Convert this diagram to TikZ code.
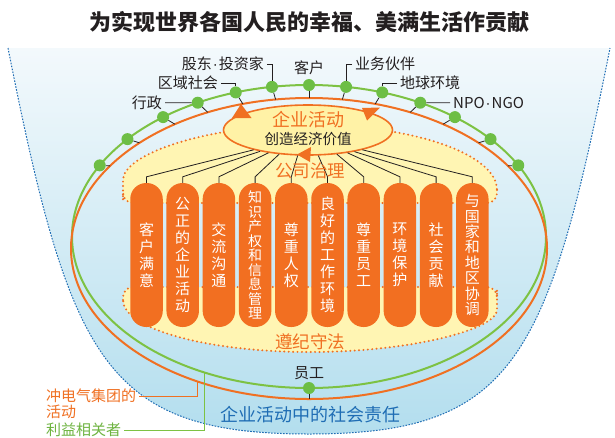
\documentclass[tikz,border=0pt]{standalone}
\usepackage{fontspec}
\setmainfont{Noto Sans CJK SC}
\newfontfamily\dotfont{Liberation Sans}
\newcommand{\mdot}{{\dotfont\kern1pt·\kern1pt}}
\usetikzlibrary{arrows.meta,shapes.geometric}
\definecolor{org}{HTML}{F07022}
\definecolor{pil}{HTML}{F26F21}
\definecolor{yel}{HTML}{FFF5B3}
\definecolor{yel2}{HTML}{FFF2A6}
\definecolor{grn}{HTML}{7DC243}
\definecolor{dotg}{HTML}{6DBE45}
\definecolor{grn2}{HTML}{6DB33F}
\definecolor{blu}{HTML}{1F6DB4}
\definecolor{bowlT}{HTML}{F3F9FC}
\definecolor{bowlB}{HTML}{B3DEEE}
\definecolor{txt}{HTML}{231F20}
\begin{document}
\begin{tikzpicture}[x=1pt,y=-1pt,
  lab/.style={font=\fontsize{15}{15}\selectfont, text=txt, inner sep=3pt},
  tickline/.style={draw=txt, line width=0.8pt},
  sdot/.style={circle, fill=dotg, minimum size=12pt, inner sep=0pt},
  pillar/.style={fill=pil, rounded corners=16pt, minimum width=32.5pt, minimum height=144pt, inner sep=0pt, text=white, align=center, font=\fontsize{15}{17}\selectfont},
  dottedborder/.style={draw=org, line width=2.2pt, dash pattern=on 0pt off 4.4pt, line cap=round},
  bowlline/.style={draw=blu, line width=1pt, dash pattern=on 1.6pt off 1.4pt},
  orgline/.style={draw=org, line width=2pt},
  grnline/.style={draw=grn, line width=2pt},
]
\useasboundingbox (0,0) rectangle (615,437);
\fill[white] (0,0) rectangle (615,437);
% bowl
\shade[top color=bowlT, bottom color=bowlB] (8,48) .. controls (70,360) and (105,434) .. (309,434) .. controls (513,434) and (548,360) .. (610,48) -- cycle;
\draw[bowlline] (8,48) .. controls (70,360) and (105,434) .. (309,434) .. controls (513,434) and (548,360) .. (610,48);
% stakeholder ellipses
\draw[grnline] (309,236.5) ellipse[x radius=237, y radius=151.5];
\draw[orgline] (309,248.5) ellipse[x radius=238, y radius=150.5];
% dots
\foreach \t in {28,40,52,62,72,81,90,99,108,118,128,140,152} {
  \node[sdot] (d\t) at ({309+237*cos(\t)},{236.5-151.5*sin(\t)}) {};
  \coordinate (e\t) at ({309+238*cos(\t+6*cos(\t))},{248.5-150.5*sin(\t+6*cos(\t))});
  \draw[tickline] (d\t) -- (e\t);
}
\node[sdot] (d270) at (309,388) {};
\coordinate (e270) at (309,399);
\draw[tickline] (d270) -- (e270);
% labels
\node[lab, anchor=east] (l1) at (165,102.7) {行政};
\draw[tickline] (l1.east) -- (d118);
\node[lab, anchor=east] (l2) at (221,83) {区域社会};
\draw[tickline] (l2.east) -| (d108);
\node[lab, anchor=east] (l3) at (267,64) {股东\mdot 投资家};
\draw[tickline] (l3.east) -| (d99);
\node[lab] (l4) at (309,68) {客户};
\node[lab, anchor=west] (l5) at (352,64) {业务伙伴};
\draw[tickline] (l5.west) -| (d81);
\node[lab, anchor=west] (l6) at (397,83) {地球环境};
\draw[tickline] (l6.west) -| (d72);
\node[lab, anchor=west] (l7) at (450,102.7) {NPO\mdot NGO};
\draw[tickline] (l7.west) -- (d62);
% yellow regions
\path[fill=yel, dottedborder] (497,190) [rounded corners=10pt] -- (497,203) -- (123,203) -- (123,190) [sharp corners] arc[start angle=180, end angle=360, x radius=187, y radius=65] -- cycle;
\path[fill=yel, dottedborder] (123,300) [rounded corners=10pt] -- (123,287) -- (497,287) -- (497,300) [sharp corners] arc[start angle=0, end angle=180, x radius=187, y radius=52] -- cycle;
% inner ellipse
\node[ellipse, draw=org, line width=1.6pt, fill=yel2, minimum width=169pt, minimum height=50pt, inner sep=0pt] (act) at (308,130) {};
\fill[org] (241,104) -- (251.5,118) -- (232,118) -- cycle;
\fill[org] (362,108) -- (380,107.5) -- (367,120.5) -- cycle;
\fill[org] (297,154.5) -- (311,147) -- (310,162) -- cycle;
% pillars
\node[pillar] (c1) at (146.5,255) {客\\户\\满\\意};
\node[pillar] (c2) at (182.7,255) {公\\正\\的\\企\\业\\活\\动};
\node[pillar] (c3) at (218.9,255) {交\\流\\沟\\通};
\node[pillar, font=\fontsize{14}{14.5}\selectfont] (c4) at (255.1,255) {知\\识\\产\\权\\和\\信\\息\\管\\理};
\node[pillar] (c5) at (291.3,255) {尊\\重\\人\\权};
\node[pillar] (c6) at (327.5,255) {良\\好\\的\\工\\作\\环\\境};
\node[pillar] (c7) at (363.7,255) {尊\\重\\员\\工};
\node[pillar] (c8) at (399.9,255) {环\\境\\保\\护};
\node[pillar] (c9) at (436.1,255) {社\\会\\贡\\献};
\node[pillar, font=\fontsize{15}{15.4}\selectfont] (c10) at (472.3,255) {与\\国\\家\\和\\地\\区\\协\\调};
% fan lines
\draw[tickline] (act.200) -- ([yshift=6pt]c1.north) -- (c1.north);
\draw[tickline] (act.204.5) -- ([yshift=6pt]c2.north) -- (c2.north);
\draw[tickline] (act.210) -- ([yshift=6pt]c3.north) -- (c3.north);
\draw[tickline] (act.220) -- ([yshift=6pt]c4.north) -- (c4.north);
\draw[tickline] (act.248) -- ([yshift=6pt]c5.north) -- (c5.north);
\draw[tickline] (act.292) -- ([yshift=6pt]c6.north) -- (c6.north);
\draw[tickline] (act.320) -- ([yshift=6pt]c7.north) -- (c7.north);
\draw[tickline] (act.330) -- ([yshift=6pt]c8.north) -- (c8.north);
\draw[tickline] (act.335.5) -- ([yshift=6pt]c9.north) -- (c9.north);
\draw[tickline] (act.340) -- ([yshift=6pt]c10.north) -- (c10.north);
% texts
\node[font=\bfseries\fontsize{22}{22}\selectfont, text=txt] (title) at (309,22.5) {为实现世界各国人民的幸福、美满生活作贡献};
\node[text=org, font=\fontsize{18}{18}\selectfont] (t1) at (308,120) {企业活动};
\node[text=txt, font=\fontsize{14.5}{14.5}\selectfont] (t2) at (308,139) {创造经济价值};
\node[text=org, font=\fontsize{17.5}{17.5}\selectfont] (gov) at (310,171) {公司治理};
\node[text=org, font=\fontsize{17.5}{17.5}\selectfont] (law) at (310,342) {遵纪守法};
\node[lab] (emp) at (309,373) {员工};
\node[text=blu, font=\fontsize{18}{18}\selectfont] (csr) at (310,415) {企业活动中的社会责任};
% legend
\node[lab, text=org, anchor=west] (lo1) at (43,396) {冲电气集团的};
\node[lab, text=org, anchor=west] (lo2) at (43,412) {活动};
\node[lab, text=grn2, anchor=west] (lg) at (43,430) {利益相关者};
\coordinate (oa) at (197,381.4);
\coordinate (ga) at (204,372.4);
\draw[draw=org, line width=1pt] (lo1.east) -| (oa);
\draw[draw=grn, line width=1pt] (lg.east) -| (ga);
\end{tikzpicture}
\end{document}
